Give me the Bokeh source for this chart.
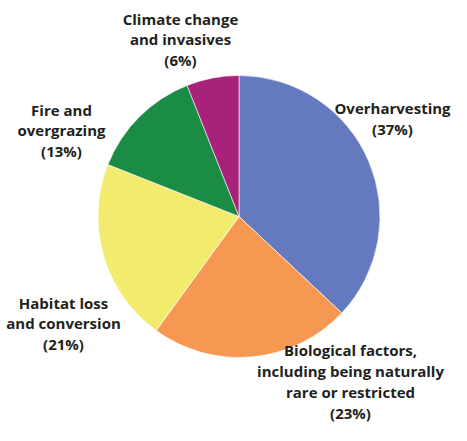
import math
from bokeh.plotting import figure
from bokeh.models import ColumnDataSource, Range1d
from bokeh.core.properties import value
from bokeh.embed import file_html
from bokeh.resources import INLINE

# ---- data ----
categories = ["Overharvesting", "Biological factors", "Habitat loss", "Fire and overgrazing", "Climate change"]
shares = [37, 23, 21, 13, 6]
labels = [
    "Overharvesting\n(37%)",
    "Biological factors,\nincluding being naturally\nrare or restricted\n(23%)",
    "Habitat loss\nand conversion\n(21%)",
    "Fire and\novergrazing\n(13%)",
    "Climate change\nand invasives\n(6%)",
]
colors = ["#6479BE", "#F79852", "#F2EB6E", "#1B8C46", "#A8227A"]

# ---- layout (pixels) ----
W, H = 451, 425
cx, cy, r = 238.5, 209, 141
label_x = [392, 350, 63, 61, 180]
label_y = [307, 44, 102, 295, 386]

total = sum(shares)
starts, ends = [], []
acc = 0.0
for s in shares:
    starts.append(math.pi / 2 - 2 * math.pi * acc / total)
    acc += s
    ends.append(math.pi / 2 - 2 * math.pi * acc / total)

src = ColumnDataSource(dict(cat=categories, start=starts, end=ends, color=colors))

p = figure(width=W, height=H, output_backend="svg", toolbar_location=None,
           x_range=Range1d(0, W), y_range=Range1d(0, H), min_border=0)
p.axis.visible = False
p.grid.visible = False
p.outline_line_color = None
p.background_fill_color = "white"

p.wedge(x=cx, y=cy, radius=r, start_angle="start", end_angle="end", direction="clock",
        fill_color="color", line_color="white", line_width=0.6, source=src)

lsrc = ColumnDataSource(dict(x=label_x, y=label_y, t=labels))
p.text(x="x", y="y", text="t", source=lsrc, text_font=value("Open Sans"),
       text_font_style="bold", text_font_size="15px", text_color="#231F20",
       text_align="center", text_baseline="middle", text_line_height=1.045)

open("out.html", "w").write(file_html(p, INLINE))
